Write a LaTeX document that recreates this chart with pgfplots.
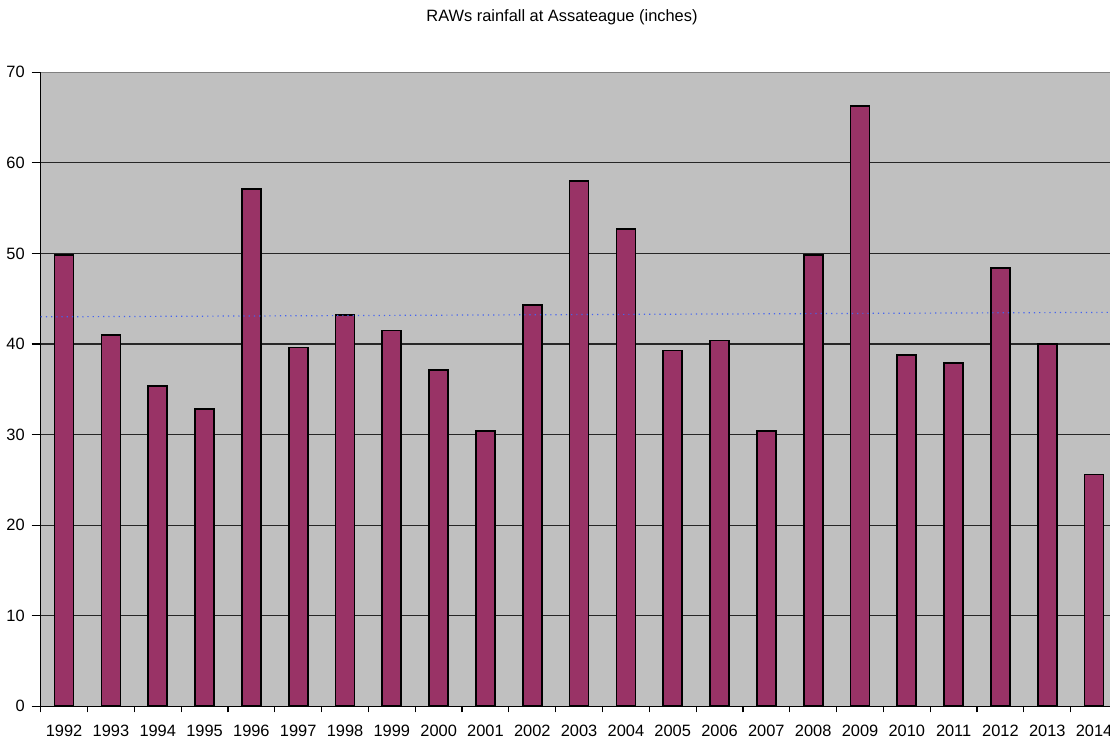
\documentclass[border=0pt]{standalone}
\usepackage{fontspec}
\setmainfont{Liberation Sans}
\usepackage{pgfplots}
\pgfplotsset{compat=1.18}
\definecolor{plotbg}{RGB}{192,192,192}
\definecolor{barfill}{RGB}{153,51,102}
\definecolor{trendblue}{RGB}{70,100,240}
\begin{document}
\begin{tikzpicture}
\useasboundingbox (0,0) rectangle (555pt,370pt);
\clip (0,0) rectangle (555pt,370pt);
\node[font=\fontsize{8.2}{10}\selectfont] at (281pt,361.5pt) {RAWs rainfall at Assateague (inches)};
\begin{axis}[
  at={(20.35pt,16.85pt)}, anchor=south west,
  scale only axis, width=538.4pt, height=317pt,
  xmin=-0.5, xmax=22.5, ymin=0, ymax=70,
  axis lines*=left,
  axis line style={black, line width=0.6pt},
  axis background/.style={fill=plotbg},
  xtick={-0.5,0.5,...,22.5},
  x tick label as interval,
  xticklabels={1992,1993,1994,1995,1996,1997,1998,1999,2000,2001,2002,2003,
    2004,2005,2006,2007,2008,2009,2010,2011,2012,2013,2014},
  xticklabel style={yshift=-1.5pt},
  ytick={0,10,...,70},
  ymajorgrids,
  major grid style={black!85, line width=0.6pt},
  tick align=outside,
  major tick length=4.5pt,
  tick style={black, line width=0.6pt},
  xtick style={/pgfplots/major tick length=3pt},
  tick label style={font=\fontsize{8.2}{10}\selectfont},
  /pgf/number format/assume math mode=true,
]
\addplot[ybar, bar width=9.5pt, fill=barfill, draw=black, line width=0.85pt] coordinates {
(0,49.8)(1,41.0)(2,35.4)(3,32.8)(4,57.1)(5,39.6)(6,43.2)(7,41.5)
(8,37.1)(9,30.4)(10,44.3)(11,58.0)(12,52.7)(13,39.3)(14,40.4)(15,30.4)
(16,49.8)(17,66.3)(18,38.8)(19,37.9)(20,48.4)(21,40.0)(22,25.6)
};
\addplot[trendblue, dotted, line width=0.6pt] coordinates {(-0.5,43.0)(22.5,43.5)};
\draw[black!50, line width=0.6pt] (rel axis cs:0,1) -- (rel axis cs:1,1);
\end{axis}
\end{tikzpicture}
\end{document}
